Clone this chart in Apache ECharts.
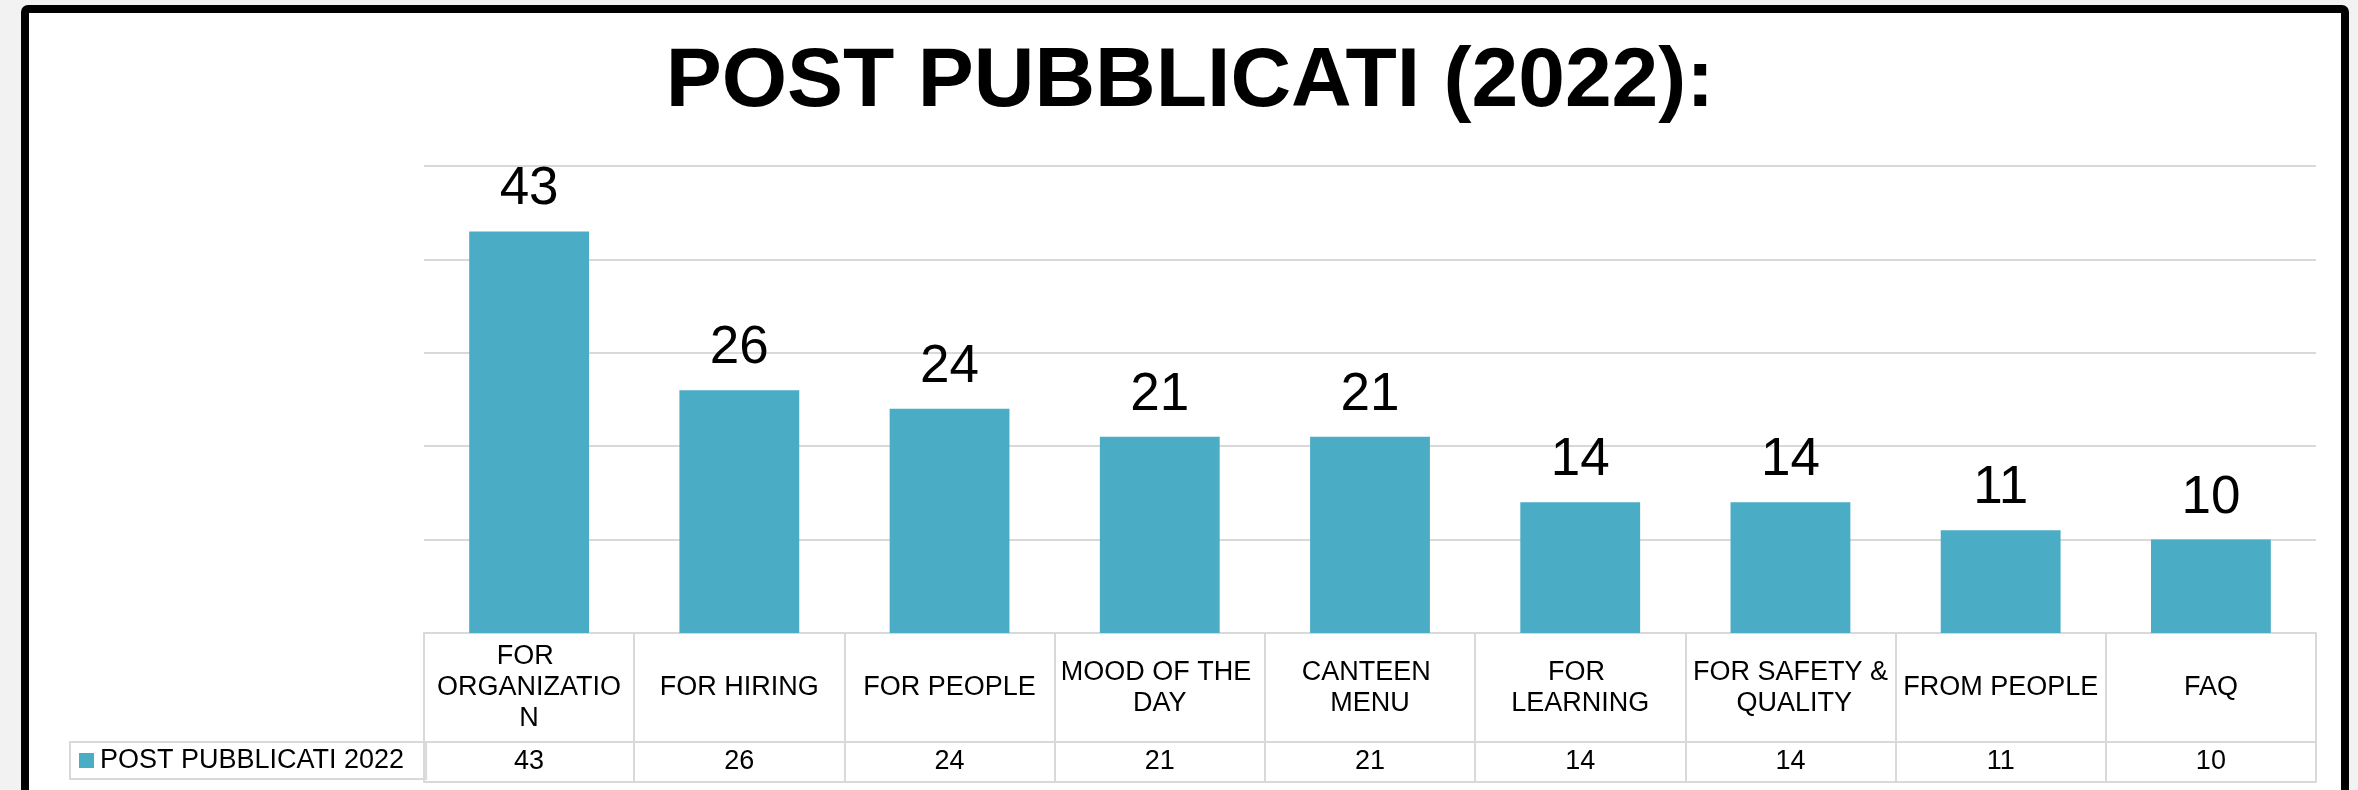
<!DOCTYPE html>
<html>
<head>
<meta charset="utf-8">
<script src="https://cdn.jsdelivr.net/npm/echarts/dist/echarts.min.js"></script>
<style>
html, body { margin:0; padding:0; width:2358px; height:790px; overflow:hidden; background:#f2f2f2; }
#frame { position:absolute; left:21px; top:5px; width:2312px; height:900px; border:8px solid #000; border-radius:7px; background:#fff; }
#chart { position:absolute; left:0; top:0; width:2358px; height:790px; }
</style>
</head>
<body>
<div id="frame"></div>
<div id="chart"></div>
<script>
const titleText = 'POST PUBBLICATI (2022):';
const seriesName = 'POST PUBBLICATI 2022';
const categories = ['FOR ORGANIZATION', 'FOR HIRING', 'FOR PEOPLE', 'MOOD OF THE DAY', 'CANTEEN MENU', 'FOR LEARNING', 'FOR SAFETY & QUALITY', 'FROM PEOPLE', 'FAQ'];
const postValues = [43, 26, 24, 21, 21, 14, 14, 11, 10];
const yTicks = [0, 10, 20, 30, 40, 50];

const FONT = '"Liberation Sans", Arial, sans-serif';
const LINE = '#d9d9d9';

const chart = echarts.init(document.getElementById('chart'), null, { renderer: 'canvas' });
chart.setOption({
  animation: false,
  backgroundColor: 'transparent',
  title: {
    text: titleText,
    left: 1190,
    top: 41,
    textAlign: 'center',
    padding: 0,
    textStyle: { fontFamily: FONT, fontWeight: 'bold', fontSize: 84, color: '#000' }
  },
  legend: {
    data: [seriesName],
    left: 70,
    top: 742,
    orient: 'horizontal',
    padding: [5, 22, 5, 9],
    borderColor: LINE,
    borderWidth: 2,
    borderRadius: 0,
    itemWidth: 15,
    itemHeight: 15,
    icon: 'rect',
    selectedMode: false,
    textStyle: { fontFamily: FONT, fontSize: 27, color: '#000', padding: [0, 0, 0, 1] }
  },
  grid: { left: 424, right: 42, top: 166, bottom: 157, containLabel: false },
  xAxis: [
    {
      type: 'category',
      data: categories,
      position: 'bottom',
      axisLine: { show: true, lineStyle: { color: LINE, width: 2 } },
      axisTick: { show: true, interval: 0, length: 109, lineStyle: { color: LINE, width: 2 } },
      axisLabel: {
        interval: 0,
        margin: 55,
        verticalAlign: 'middle',
        align: 'center',
        width: 199,
        overflow: 'break',
        lineHeight: 31,
        fontFamily: FONT,
        fontSize: 27,
        color: '#000',
        hideOverlap: false
      },
      splitLine: { show: false }
    },
    {
      type: 'category',
      data: postValues.map(String),
      position: 'bottom',
      offset: 109,
      axisLine: { show: true, lineStyle: { color: LINE, width: 2 } },
      axisTick: { show: true, interval: 0, length: 40, lineStyle: { color: LINE, width: 2 } },
      axisLabel: {
        interval: 0,
        margin: 20,
        verticalAlign: 'middle',
        align: 'center',
        fontFamily: FONT,
        fontSize: 27,
        color: '#000',
        hideOverlap: false
      },
      splitLine: { show: false }
    },
    {
      type: 'category',
      data: categories,
      position: 'bottom',
      offset: 149,
      axisLine: { show: true, lineStyle: { color: LINE, width: 2 } },
      axisTick: { show: false },
      axisLabel: { show: false },
      splitLine: { show: false }
    }
  ],
  yAxis: {
    type: 'value',
    min: yTicks[0],
    max: yTicks[yTicks.length - 1],
    interval: yTicks[1] - yTicks[0],
    axisLine: { show: false },
    axisTick: { show: false },
    axisLabel: { show: false },
    splitLine: { show: true, lineStyle: { color: LINE, width: 2 } }
  },
  series: [
    {
      name: seriesName,
      type: 'bar',
      xAxisIndex: 0,
      yAxisIndex: 0,
      data: postValues,
      barCategoryGap: '43%',
      itemStyle: { color: '#4BACC6' },
      label: {
        show: true,
        position: 'top',
        distance: 15,
        fontFamily: FONT,
        fontSize: 53,
        color: '#000'
      },
      emphasis: { disabled: true }
    }
  ]
});
</script>
</body>
</html>
